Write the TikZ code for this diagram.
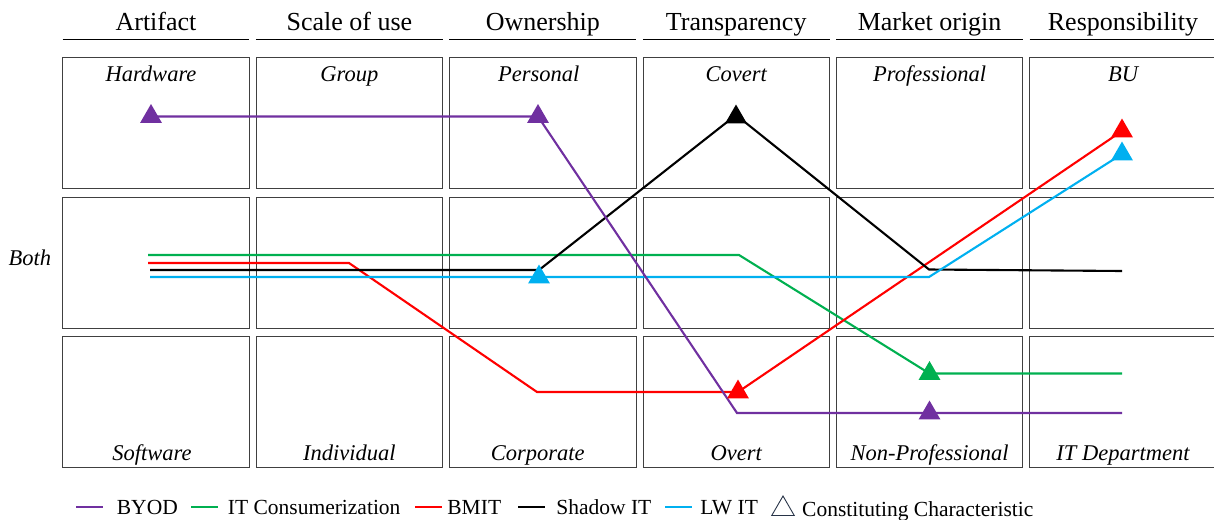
\documentclass[tikz,border=0pt]{standalone}
\usepackage{fontspec}
\setmainfont{Liberation Serif}
\usetikzlibrary{shapes,positioning}

\definecolor{byod}{RGB}{112,48,160}
\definecolor{itcons}{RGB}{0,176,80}
\definecolor{bmit}{RGB}{255,0,0}
\definecolor{shadowit}{RGB}{0,0,0}
\definecolor{lwit}{RGB}{0,176,240}
\definecolor{keyedge}{RGB}{40,52,72}

\begin{document}
\begin{tikzpicture}[x=1pt, y=-1pt, node distance=6pt]
	\tikzset{
		cell/.style={rectangle, draw=black!75, line width=0.9pt, minimum width=186.5pt, minimum height=131pt, inner sep=0pt},
		head/.style={minimum width=186.5pt, inner xsep=0pt, inner ysep=3pt, text height=18pt, text depth=5pt, font=\fontsize{26}{30}\selectfont},
		rule/.style={line width=1pt},
		tag/.style={inner sep=0pt, font=\fontsize{22.5}{26}\selectfont\itshape},
		series/.style={line width=2.1pt},
		tri/.style={regular polygon, regular polygon sides=3, minimum size=25pt, inner sep=0pt},
		key/.style={rectangle, minimum width=27pt, minimum height=2.8pt, inner sep=0pt},
		legtext/.style={inner sep=0pt, text height=14pt, text depth=0pt, font=\fontsize{21.5}{25}\selectfont},
	}
	\useasboundingbox (0,0) rectangle (1214,519);
	%Grid of cells
	\node[cell] (artifact1) at (156,123) {};
	\node[cell, below=7.6pt of artifact1] (artifact2) {};
	\node[cell, below=7.6pt of artifact2] (artifact3) {};
	\node[cell, right=of artifact1] (scale1) {};
	\node[cell, right=of artifact2] (scale2) {};
	\node[cell, right=of artifact3] (scale3) {};
	\node[cell, right=of scale1] (owner1) {};
	\node[cell, right=of scale2] (owner2) {};
	\node[cell, right=of scale3] (owner3) {};
	\node[cell, right=of owner1] (transp1) {};
	\node[cell, right=of owner2] (transp2) {};
	\node[cell, right=of owner3] (transp3) {};
	\node[cell, right=of transp1] (market1) {};
	\node[cell, right=of transp2] (market2) {};
	\node[cell, right=of transp3] (market3) {};
	\node[cell, right=of market1] (resp1) {};
	\node[cell, right=of market2] (resp2) {};
	\node[cell, right=of market3] (resp3) {};
	%Column heads
	\node[head, above=18pt of artifact1] (hartifact) {Artifact};
	\node[head, above=18pt of scale1] (hscale) {Scale of use};
	\node[head, above=18pt of owner1] (howner) {Ownership};
	\node[head, above=18pt of transp1] (htransp) {Transparency};
	\node[head, above=18pt of market1] (hmarket) {Market origin};
	\node[head, above=18pt of resp1] (hresp) {Responsibility};
	\draw[rule] (hartifact.south west) -- (hartifact.south east);
	\draw[rule] (hscale.south west) -- (hscale.south east);
	\draw[rule] (howner.south west) -- (howner.south east);
	\draw[rule] (htransp.south west) -- (htransp.south east);
	\draw[rule] (hmarket.south west) -- (hmarket.south east);
	\draw[rule] (hresp.south west) -- (hresp.south east);
	%Values
	\node[tag, anchor=base] (hw) at ([xshift=-5pt, yshift=-24.5pt]artifact1.north) {Hardware};
	\node[tag, anchor=base] (grp) at ([yshift=-24.5pt]scale1.north) {Group};
	\node[tag, anchor=base] (pers) at ([xshift=-4pt, yshift=-24.5pt]owner1.north) {Personal};
	\node[tag, anchor=base] (cov) at ([yshift=-24.5pt]transp1.north) {Covert};
	\node[tag, anchor=base] (prof) at ([yshift=-24.5pt]market1.north) {Professional};
	\node[tag, anchor=base] (bu) at ([yshift=-24.5pt]resp1.north) {BU};
	\node[tag, anchor=base] (sw) at ([xshift=-4pt, yshift=7.5pt]artifact3.south) {Software};
	\node[tag, anchor=base] (indiv) at ([yshift=7.5pt]scale3.south) {Individual};
	\node[tag, anchor=base] (corp) at ([xshift=-5pt, yshift=7.5pt]owner3.south) {Corporate};
	\node[tag, anchor=base] (overt) at ([yshift=7.5pt]transp3.south) {Overt};
	\node[tag, anchor=base] (nonprof) at ([yshift=7.5pt]market3.south) {Non-Professional};
	\node[tag, anchor=base] (itdep) at ([yshift=7.5pt]resp3.south) {IT Department};
	\node[tag, left=11pt of artifact2, yshift=5pt] (both) {Both};
	%Profile points
	\coordinate (g1) at (148,255);
	\coordinate (g2) at (739,255);
	\coordinate (g3) at (929.5,373.5);
	\coordinate (g4) at (1122,373.5);
	\coordinate (r1) at (148,263);
	\coordinate (r2) at (349,263);
	\coordinate (r3) at (537,392);
	\coordinate (r4) at (738,392);
	\coordinate (r5) at (1122,131);
	\coordinate (k1) at (150,270);
	\coordinate (k2) at (539,270);
	\coordinate (k3) at (736,115);
	\coordinate (k4) at (929,269.5);
	\coordinate (k5) at (1122,271);
	\coordinate (l1) at (150,277);
	\coordinate (l2) at (539,277);
	\coordinate (l3) at (929,277);
	\coordinate (l4) at (1122,154);
	\coordinate (b1) at (151,116.5);
	\coordinate (b2) at (538,116.5);
	\coordinate (b3) at (737,413);
	\coordinate (b4) at (929.5,413);
	\coordinate (b5) at (1122,413);
	%Draw profiles
	\draw[series, itcons] (g1) -- (g2) -- (g3) -- (g4);
	\draw[series, bmit] (r1) -- (r2) -- (r3) -- (r4) -- (r5);
	\draw[series, shadowit] (k1) -- (k2) -- (k3) -- (k4) -- (k5);
	\draw[series, lwit] (l1) -- (l2) -- (l3) -- (l4);
	\draw[series, byod] (b1) -- (b2) -- (b3) -- (b4) -- (b5);
	%Constituting characteristics
	\node[tri, fill=itcons] (gnonprof) at (g3) {};
	\node[tri, fill=bmit] (rovert) at (r4) {};
	\node[tri, fill=bmit] (rbu) at (r5) {};
	\node[tri, fill=shadowit] (kcovert) at ([yshift=-2pt]k3) {};
	\node[tri, fill=lwit] (lboth) at (l2) {};
	\node[tri, fill=lwit] (lbu) at (l4) {};
	\node[tri, fill=byod] (bhw) at (b1) {};
	\node[tri, fill=byod] (bpers) at (b2) {};
	\node[tri, fill=byod] (bnonprof) at (b4) {};
	%Legend
	\node[key, fill=byod] (kbyod) at (89,507) {};
	\node[legtext, right=14pt of kbyod] (tbyod) {BYOD};
	\node[key, fill=itcons] (kitcons) at (204,507) {};
	\node[legtext, right=10pt of kitcons] (titcons) {IT Consumerization};
	\node[key, fill=bmit] (kbmit) at (428.5,507) {};
	\node[legtext, right=5pt of kbmit] (tbmit) {BMIT};
	\node[key, fill=shadowit] (kshadow) at (531.5,507) {};
	\node[legtext, right=11pt of kshadow] (tshadow) {Shadow IT};
	\node[key, fill=lwit] (klwit) at (678.5,507) {};
	\node[legtext, right=8pt of klwit] (tlwit) {LW IT};
	\node[tri, draw=keyedge, line width=0.9pt, fill=white, minimum size=26pt] (ktri) at (783,509) {};
	\node[legtext, right=11pt of ktri] (tconst) {Constituting Characteristic};
\end{tikzpicture}
\end{document}
